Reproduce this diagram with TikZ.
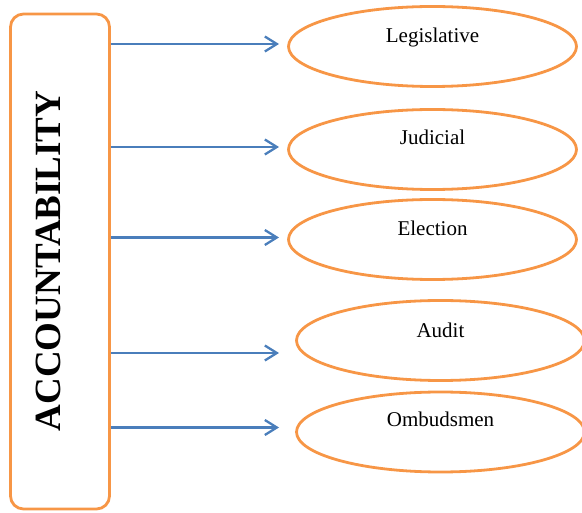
\documentclass[tikz,border=0pt]{standalone}
\usepackage{fontspec}
\setmainfont{Liberation Serif}
\usetikzlibrary{shapes.geometric,arrows.meta}

\definecolor{frameorange}{HTML}{F79646}
\definecolor{linkblue}{HTML}{4A7EBB}

\tikzset{
  oval/.style={ellipse, draw=frameorange, line width=2.8pt, minimum width=288pt, minimum height=80pt, inner sep=0pt},
  ovaltext/.style={anchor=base, font=\fontsize{21}{25}\selectfont},
  link/.style={draw=linkblue, line width=2.3pt, -{Straight Barb[length=12pt,width=15pt]}}
}

\begin{document}
\begin{tikzpicture}[x=1pt,y=-1pt]

\useasboundingbox (0,0) rectangle (582,513);

\node [draw=frameorange, line width=2.8pt, rounded corners=13pt, minimum width=99pt, minimum height=495pt, inner sep=0pt] (acc) at (60,261.5) {};

\node [rotate=90, font=\fontsize{37}{41}\selectfont\bfseries] (acctext) at (48.5,261) {ACCOUNTABILITY};

\node [oval] (leg) at (432.5,46.5) {};
\node [oval] (jud) at (432.5,149.5) {};
\node [oval] (ele) at (432.5,239.5) {};
\node [oval] (aud) at (440.5,340.5) {};
\node [oval] (omb) at (440.5,432) {};

\node [ovaltext] (legtext) at ([yshift=4pt]leg.center) {Legislative};
\node [ovaltext] (judtext) at ([yshift=5pt]jud.center) {Judicial};
\node [ovaltext] (eletext) at ([yshift=4pt]ele.center) {Election};
\node [ovaltext] (audtext) at ([yshift=3pt]aud.center) {Audit};
\node [ovaltext] (ombtext) at ([yshift=5pt]omb.center) {Ombudsmen};

\coordinate (legtip) at (279,44);
\coordinate (judtip) at (279,147);
\coordinate (eletip) at (279,237.5);
\coordinate (audtip) at (279,353);
\coordinate (ombtip) at (279,427.5);

\draw [link] (acc.east |- legtip) -- (legtip);
\draw [link] (acc.east |- judtip) -- (judtip);
\draw [link] (acc.east |- eletip) -- (eletip);
\draw [link] (acc.east |- audtip) -- (audtip);
\draw [link] (acc.east |- ombtip) -- (ombtip);

\end{tikzpicture}
\end{document}
